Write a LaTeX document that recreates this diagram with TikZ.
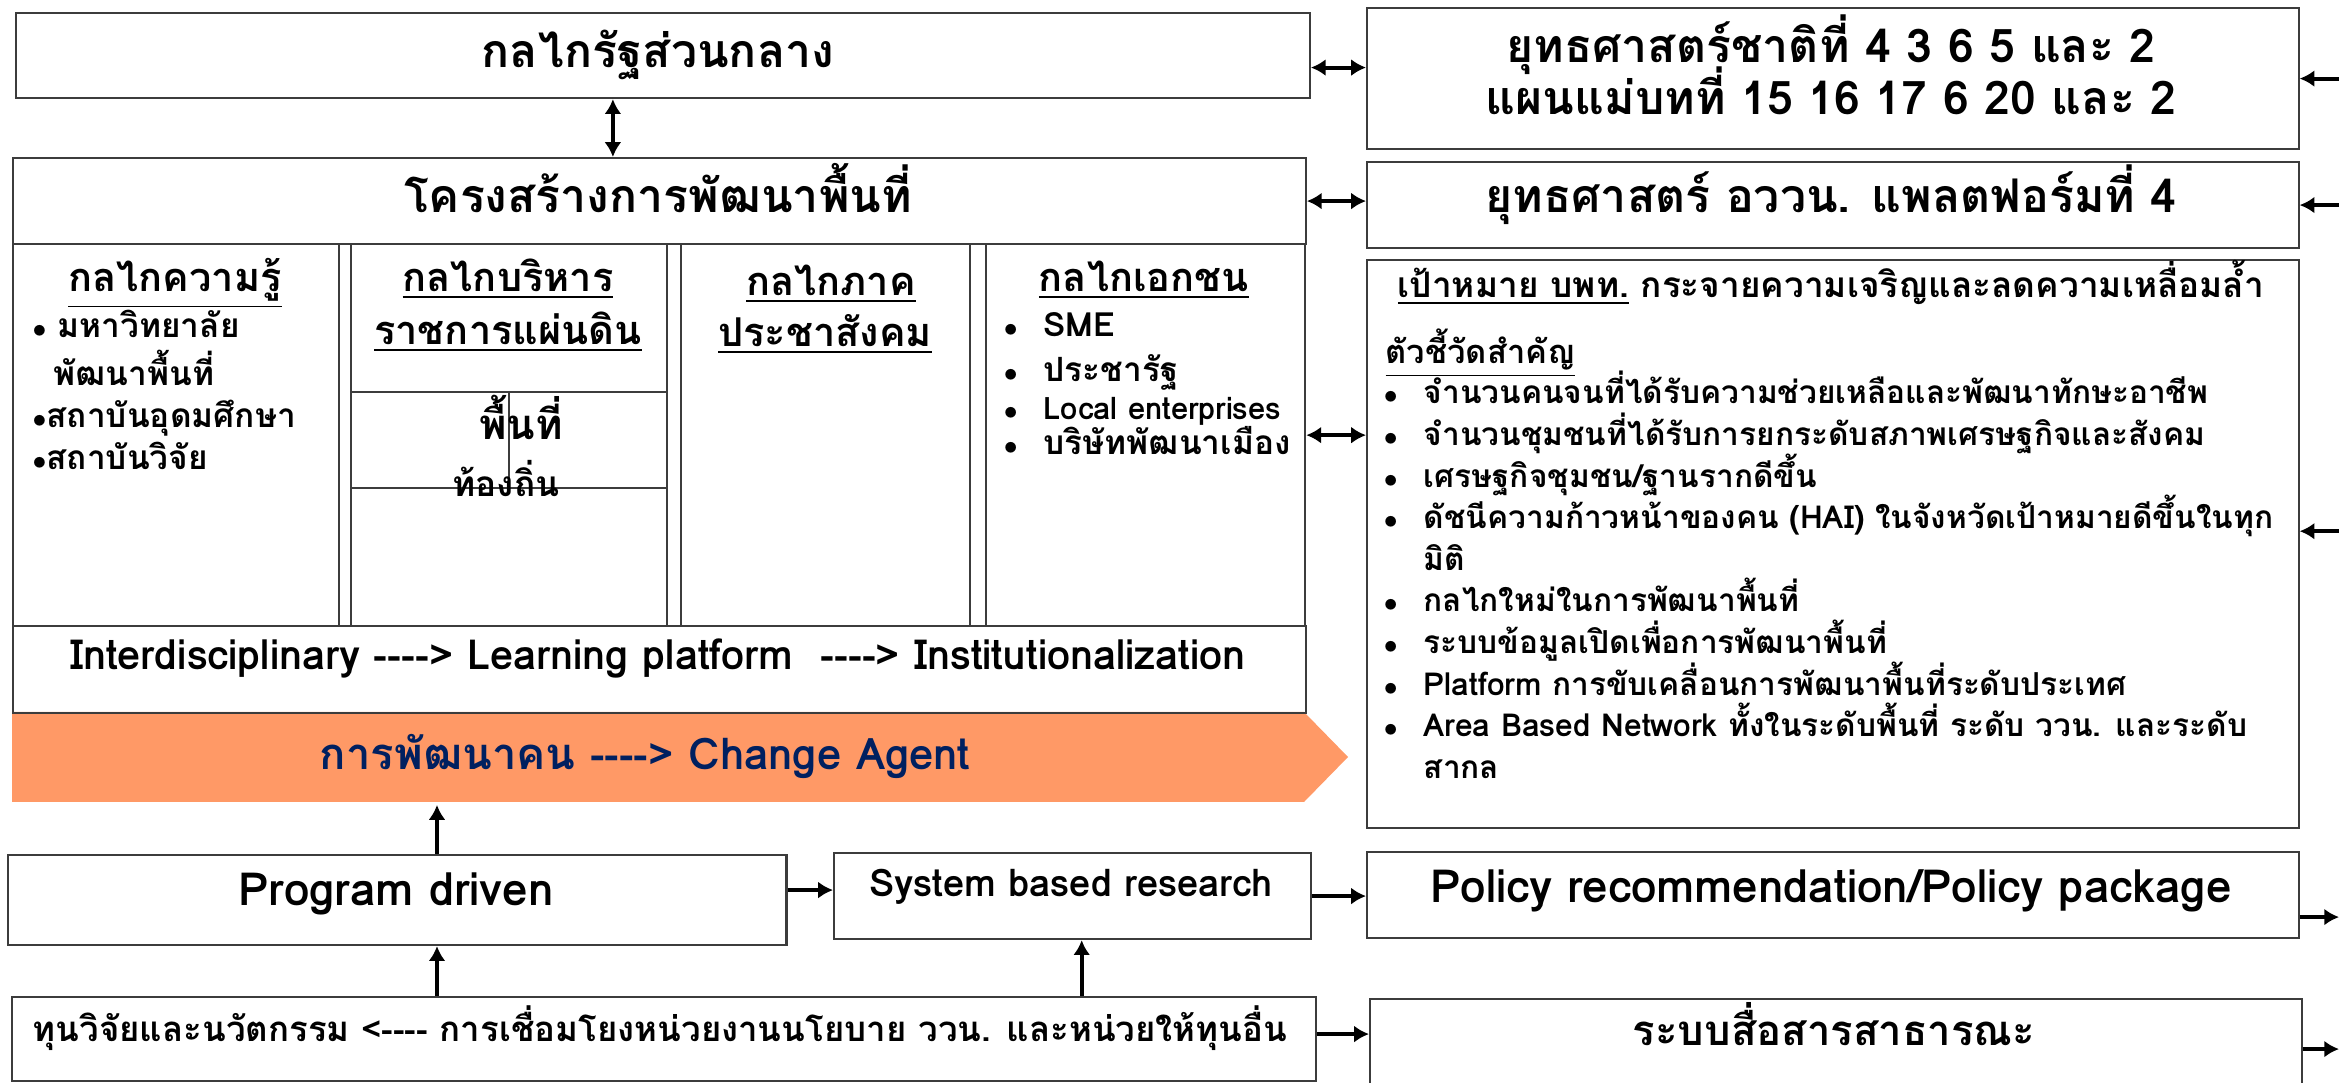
\documentclass[tikz,border=0pt]{standalone}
\usepackage{fontspec}
\setmainfont[Script=Thai,Ligatures=TeXOff]{Loma}
\usetikzlibrary{arrows.meta}
\definecolor{boxline}{RGB}{60,60,60}
\definecolor{bandfill}{RGB}{255,153,102}
\definecolor{agentblue}{RGB}{0,32,96}
\tikzstyle{box} = [draw=boxline,line width=0.6pt,anchor=north west,inner sep=0pt]
\tikzstyle{link} = [-{Latex[length=4.2pt,width=4.8pt]},line width=1.1pt]
\tikzstyle{both} = [{Latex[length=4.2pt,width=4.8pt]}-{Latex[length=4.2pt,width=4.8pt]},line width=1.1pt]
\tikzstyle{bigtext} = [font=\fontsize{13.2}{16}\selectfont\bfseries,anchor=base,inner sep=0pt]
\tikzstyle{headtext} = [font=\fontsize{11.3}{14}\selectfont\bfseries,anchor=base,inner sep=0pt]
\tikzstyle{progtext} = [font=\fontsize{13}{15}\selectfont\bfseries,anchor=base,inner sep=0pt]
\tikzstyle{midtext} = [font=\fontsize{10}{12}\selectfont\bfseries,anchor=base,inner sep=0pt]
\tikzstyle{itemtext} = [font=\fontsize{9.5}{12}\selectfont\bfseries,anchor=base west,inner sep=0pt]
\tikzstyle{kpitext} = [font=\fontsize{9}{11}\selectfont\bfseries,anchor=base west,inner sep=0pt]
\newcommand{\itembul}{\llap{\scalebox{0.85}{$\bullet$}\hspace{0.26cm}}}

\begin{document}
\begin{tikzpicture}[x=0.01cm,y=-0.01cm]
\useasboundingbox (0,0) rectangle (2339,1083);
\fill[white] (0,0) rectangle (2339,1083);

\fill[bandfill] (12,712) -- (1304,712) -- (1348,757) -- (1304,802) -- (12,802) -- cycle;
\node[font=\fontsize{12.4}{14}\selectfont\bfseries,text=agentblue,anchor=base,inner sep=0pt](agent) at (645,770){การพัฒนาคน ----> Change Agent};

\node[box,minimum width=12.93cm,minimum height=0.85cm](top) at (15,12){};
\node[box,minimum width=12.92cm,minimum height=0.86cm](head) at (12,157){};
\node[box,minimum width=3.26cm,minimum height=3.82cm](col1) at (12,243){};
\node[box,minimum width=3.16cm,minimum height=3.82cm](col2) at (350,243){};
\node[box,minimum width=2.89cm,minimum height=3.82cm](col3) at (680,243){};
\node[box,minimum width=3.19cm,minimum height=3.82cm](col4) at (985,243){};
\node[box,minimum width=12.92cm,minimum height=0.87cm](foot) at (12,625){};
\node[box,minimum width=3.16cm,minimum height=0.96cm](local) at (350,391){};
\draw[boxline,line width=0.6pt] (local.north) -- (local.south);
\node[box,minimum width=7.78cm,minimum height=0.90cm](prog) at (7,854){};
\node[box,minimum width=4.77cm,minimum height=0.86cm](sys) at (833,852){};
\node[box,minimum width=13.03cm,minimum height=0.84cm](fund) at (11,996){};
\node[box,minimum width=9.31cm,minimum height=1.41cm](r1) at (1366,7){};
\node[box,minimum width=9.31cm,minimum height=0.86cm](r2) at (1366,161){};
\node[box,minimum width=9.31cm,minimum height=5.68cm](r3) at (1366,259){};
\node[box,minimum width=9.31cm,minimum height=0.86cm](policy) at (1366,851){};
\node[box,minimum width=9.31cm,minimum height=1.00cm](media) at (1369,998){};

\node[bigtext](t1) at (658,68){กลไกรัฐส่วนกลาง};
\node[bigtext](t2) at (658,213){โครงสร้างการพัฒนาพื้นที่};

\node[headtext](k1) at (175,292){\underline{กลไกความรู้}};
\node[itemtext](k2) at (32,338){\scalebox{0.85}{$\bullet$}\ มหาวิทยาลัย};
\node[itemtext](k3) at (53,386){พัฒนาพื้นที่};
\node[itemtext](k4) at (32,428){\scalebox{0.85}{$\bullet$}สถาบันอุดมศึกษา};
\node[itemtext](k5) at (32,470){\scalebox{0.85}{$\bullet$}สถาบันวิจัย};

\node[headtext](g1) at (508,292){\underline{กลไกบริหาร}};
\node[headtext](g2) at (508,345){\underline{ราชการแผ่นดิน}};
\node[headtext,font=\fontsize{11.9}{14}\selectfont\bfseries](l1) at (521,440){พื้นที่};
\node[headtext,font=\fontsize{10}{12}\selectfont\bfseries](l2) at (506,497){ท้องถิ่น};

\node[headtext](c1) at (831,296){\underline{กลไกภาค}};
\node[headtext](c2) at (825,347){\underline{ประชาสังคม}};

\node[headtext](p1) at (1144,292){\underline{กลไกเอกชน}};
\node[itemtext](p2) at (1043,337){\itembul SME};
\node[itemtext](p3) at (1043,382){\itembul ประชารัฐ};
\node[itemtext,font=\fontsize{8.8}{10}\selectfont\bfseries](p4) at (1043,420){\itembul Local enterprises};
\node[itemtext](p5) at (1043,455){\itembul บริษัทพัฒนาเมือง};

\node[midtext,font=\fontsize{11.8}{14}\selectfont\bfseries](f1) at (658,670){Interdisciplinary ----> Learning platform \ ----> Institutionalization};

\node[progtext](pd) at (396,906){Program driven};
\node[midtext,font=\fontsize{10.8}{13}\selectfont\bfseries](sb) at (1071,897){System based research};
\node[midtext,font=\fontsize{9.9}{12}\selectfont\bfseries](fd) at (660,1042){ทุนวิจัยและนวัตกรรม <---- การเชื่อมโยงหน่วยงานนโยบาย ววน. และหน่วยให้ทุนอื่น};

\node[bigtext](s1) at (1831,63){ยุทธศาสตร์ชาติที่ 4 3 6 5 และ 2};
\node[bigtext](s2) at (1831,115){แผนแม่บทที่ 15 16 17 6 20 และ 2};
\node[bigtext](s3) at (1831,213){ยุทธศาสตร์ อววน. แพลตฟอร์มที่ 4};

\node[midtext](g0) at (1831,298){\underline{เป้าหมาย บพท.} กระจายความเจริญและลดความเหลื่อมล้ำ};
\node[kpitext,font=\fontsize{9.3}{11}\selectfont\bfseries](kpi) at (1385,364){\underline{ตัวชี้วัดสำคัญ}};
\foreach \t [count=\i] in {
  {\itembul จำนวนคนจนที่ได้รับความช่วยเหลือและพัฒนาทักษะอาชีพ},
  {\itembul จำนวนชุมชนที่ได้รับการยกระดับสภาพเศรษฐกิจและสังคม},
  {\itembul เศรษฐกิจชุมชน/ฐานรากดีขึ้น},
  {\itembul ดัชนีความก้าวหน้าของคน (HAI) ในจังหวัดเป้าหมายดีขึ้นในทุก},
  {มิติ},
  {\itembul กลไกใหม่ในการพัฒนาพื้นที่},
  {\itembul ระบบข้อมูลเปิดเพื่อการพัฒนาพื้นที่},
  {\itembul Platform การขับเคลื่อนการพัฒนาพื้นที่ระดับประเทศ},
  {\itembul Area Based Network ทั้งในระดับพื้นที่ ระดับ ววน. และระดับ},
  {สากล}}
  \node[kpitext](i\i) at (1423,{404+41.6*(\i-1)}){\t};

\node[progtext](pc) at (1831,903){Policy recommendation/Policy package};
\node[progtext,font=\fontsize{11.9}{14}\selectfont\bfseries](ms) at (1834,1046){ระบบสื่อสารสาธารณะ};

\coordinate (tl) at ([xshift=-0.5cm]top.south);
\draw[both] (tl) -- (tl |- head.north);
\coordinate (a1) at ([yshift=-0.12cm]top.east);
\draw[both] (a1) -- (a1 -| r1.west);
\draw[both] (head.east) -- (head.east -| r2.west);
\draw[both] (col4.east) -- (col4.east -| r3.west);

\coordinate (edge) at (2339,0);
\draw[link] (r1.east -| edge) -- (r1.east);
\draw[link] (r2.east -| edge) -- (r2.east);
\coordinate (a3) at ([yshift=0.13cm]r3.east);
\draw[link] (a3 -| edge) -- (a3);
\coordinate (a4) at ([yshift=-0.22cm]policy.east);
\draw[link] (a4) -- (a4 -| edge);
\draw[link] (media.east) -- (media.east -| edge);

\coordinate (a5) at ([yshift=0.1cm]prog.east);
\draw[link] (a5) -- (a5 -| sys.west);
\draw[link] (sys.east) -- (sys.east -| policy.west);
\coordinate (a6) at ([yshift=0.05cm]fund.east);
\draw[link] (a6) -- (a6 -| media.west);
\coordinate (bandbot) at (437,805);
\draw[link] (bandbot |- prog.north) -- (bandbot);
\draw[link] (bandbot |- fund.north) -- (bandbot |- prog.south);
\coordinate (sb1) at ([xshift=0.09cm]sys.south);
\draw[link] (sb1 |- fund.north) -- (sb1);
\end{tikzpicture}
\end{document}
